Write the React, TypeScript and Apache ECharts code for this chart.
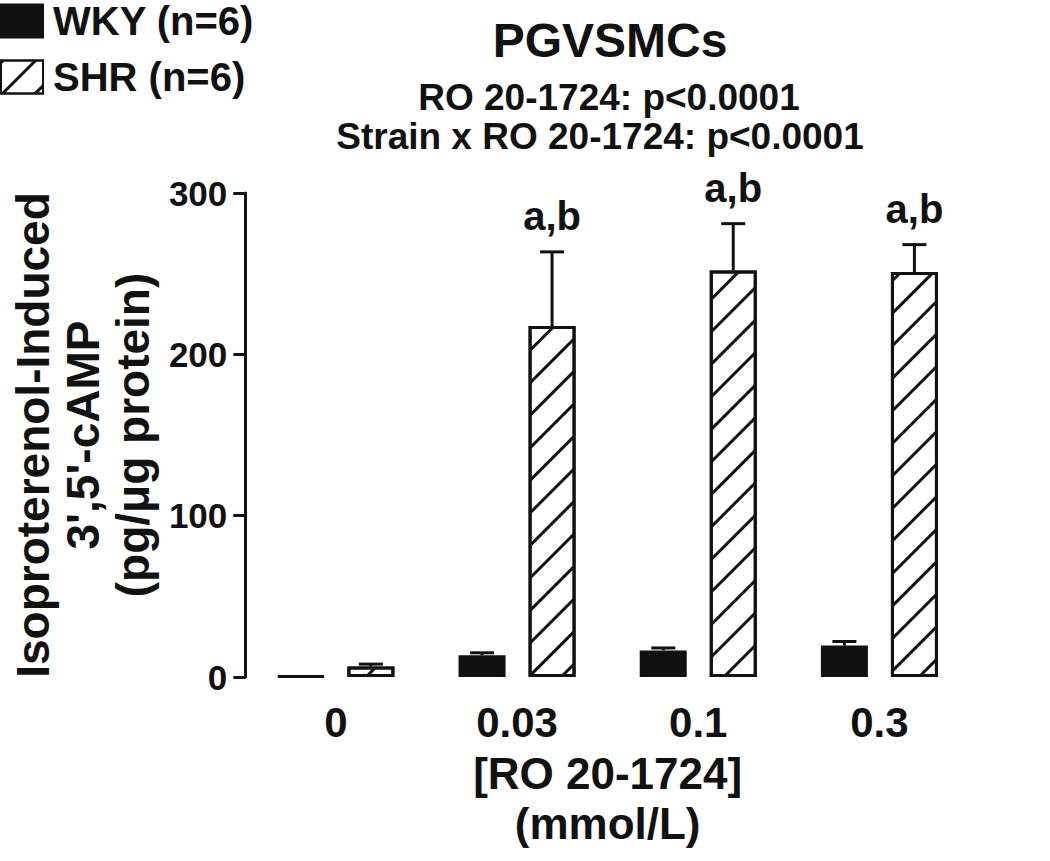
import React, { useEffect, useRef } from "react";
import * as echarts from "echarts";

const categories = ["0", "0.03", "0.1", "0.3"];
const wkyMean = [0.5, 13.5, 16.5, 19.5];
const wkySem = [0, 1.5, 1.5, 2.5];
const shrMean = [6.5, 217.5, 252, 251];
const shrSem = [1.5, 46, 29, 17];
const shrMarks = ["", "a,b", "a,b", "a,b"];
const yTicks = { min: 0, max: 300, interval: 100 };

const FONT = "'Liberation Sans', Arial, Helvetica, sans-serif";
const INK = "#111";

function errorSeries(means: number[], sems: number[], offset: number, marks: string[] | null) {
  return {
    type: "custom",
    silent: true,
    z: 5,
    data: means.map((m, i) => [i, m, sems[i]]),
    encode: { x: 0, y: 1 },
    renderItem: (params: any, api: any) => {
      const i = api.value(0);
      const mean = api.value(1);
      const err = api.value(2);
      const base = api.coord([i, mean]);
      const top = api.coord([i, mean + err]);
      const x = base[0] + offset;
      const children: any[] = [];
      if (err > 0) {
        children.push({
          type: "line",
          shape: { x1: x, y1: base[1], x2: x, y2: top[1] },
          style: { stroke: INK, lineWidth: 3 },
        });
        children.push({
          type: "line",
          shape: { x1: x - 12, y1: top[1], x2: x + 12, y2: top[1] },
          style: { stroke: INK, lineWidth: 3 },
        });
      }
      const mark = marks ? marks[params.dataIndex] : "";
      if (mark) {
        children.push({
          type: "text",
          x: x,
          y: top[1] - 16,
          style: {
            text: mark,
            fill: INK,
            font: `bold 40px ${FONT}`,
            textAlign: "center",
            textVerticalAlign: "bottom",
          },
        });
      }
      return { type: "group", children };
    },
  };
}

export default function App() {
  const ref = useRef<HTMLDivElement>(null);
  useEffect(() => {
    if (!ref.current) return;
    const chart = echarts.init(ref.current, undefined, { renderer: "svg" });
    const option: any = {
      animation: false,
      backgroundColor: "#fff",
      textStyle: { fontFamily: FONT },
      grid: { left: 238, right: 80, top: 193, bottom: 184 },
      legend: {
        data: ["WKY (n=6)", "SHR (n=6)"],
        orient: "vertical",
        left: 0,
        top: 1,
        itemWidth: 42,
        itemHeight: 33,
        itemGap: 16,
        icon: "rect",
        padding: 0,
        textStyle: { fontSize: 40, fontWeight: "bold", color: INK, fontFamily: FONT, padding: [0, 0, 0, 5] },
      },
      graphic: [
        { type: "text", x: 610, y: 40, style: { text: "PGVSMCs", font: `bold 48px ${FONT}`, fill: INK, textAlign: "center", textVerticalAlign: "middle" } },
        { type: "text", x: 609, y: 97, style: { text: "RO 20-1724: p<0.0001", font: `bold 37px ${FONT}`, fill: INK, textAlign: "center", textVerticalAlign: "middle" } },
        { type: "text", x: 600, y: 136, style: { text: "Strain x RO 20-1724: p<0.0001", font: `bold 37px ${FONT}`, fill: INK, textAlign: "center", textVerticalAlign: "middle" } },
      ],
      xAxis: {
        type: "category",
        data: categories,
        axisLine: { show: false },
        axisTick: { show: false },
        axisLabel: { fontSize: 42, fontWeight: "bold", color: INK, margin: 24, fontFamily: FONT },
        name: "[RO 20-1724]\n(mmol/L)",
        nameLocation: "middle",
        nameGap: 71,
        nameTextStyle: { fontSize: 44, fontWeight: "bold", color: INK, lineHeight: 50, fontFamily: FONT },
      },
      yAxis: {
        type: "value",
        min: yTicks.min,
        max: yTicks.max,
        interval: yTicks.interval,
        splitLine: { show: false },
        axisLine: { show: true, lineStyle: { color: INK, width: 3 } },
        axisTick: { show: true, length: 12, lineStyle: { color: INK, width: 3 } },
        axisLabel: { fontSize: 35, fontWeight: "bold", color: INK, margin: 18, fontFamily: FONT },
        name: "Isoproterenol-Induced\n3',5'-cAMP\n(pg/\u03bcg protein)",
        nameLocation: "middle",
        nameRotate: 90,
        nameGap: 87,
        nameTextStyle: { fontSize: 46, fontWeight: "bold", color: INK, lineHeight: 50, fontFamily: FONT },
      },
      series: [
        {
          name: "WKY (n=6)",
          type: "bar",
          data: wkyMean,
          barWidth: 47,
          barGap: "49%",
          itemStyle: { color: INK, borderColor: INK, borderWidth: 3 },
        },
        {
          name: "SHR (n=6)",
          type: "bar",
          data: shrMean,
          barWidth: 47,
          barGap: "49%",
          itemStyle: {
            color: "#fff",
            borderColor: INK,
            borderWidth: 3,
            decal: {
              symbol: "rect",
              symbolSize: 1,
              color: INK,
              dashArrayX: [1, 0],
              dashArrayY: [3, 20],
              rotation: -Math.PI / 4,
            },
          },
        },
        errorSeries(wkyMean, wkySem, -35, null),
        errorSeries(shrMean, shrSem, 35, shrMarks),
      ],
    };
    chart.setOption(option);
    return () => chart.dispose();
  }, []);
  return (
    <div
      ref={ref}
      style={{ position: "fixed", left: 0, top: 0, width: 1050, height: 861 }}
    />
  );
}
